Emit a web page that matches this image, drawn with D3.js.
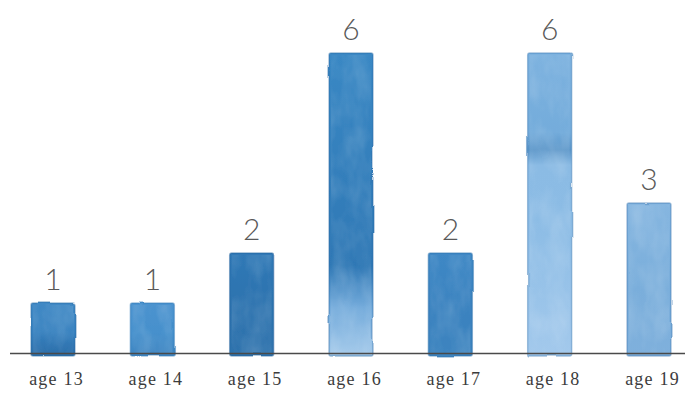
<!DOCTYPE html>
<html>
<head>
<meta charset="utf-8">
<script src="https://cdn.jsdelivr.net/npm/d3@7"></script>
<style>
  body { margin: 0; background: #fff; }
  svg { display: block; }
</style>
</head>
<body>
<svg id="chart"></svg>
<script>
// ---- data ----
const ages = ["age 13", "age 14", "age 15", "age 16", "age 17", "age 18", "age 19"];
const counts = [1, 1, 2, 6, 2, 6, 3];

// watercolor tints per bar (top, middle, bottom)
const tints = [
  ["#4089c5", "#3781bf", "#2c6ea9"],
  ["#4c93cf", "#4690cc", "#3f86c2"],
  ["#3079b6", "#2c72ae", "#2f73ad"],
  ["#3a88c4", "#2f78b5", "#a6cbeb"],
  ["#3f88c5", "#3a82bf", "#3d84bf"],
  ["#7db2df", "#8cbce5", "#a3c9ec"],
  ["#86b6e0", "#7aaedb", "#7fb0dc"]
];
const edgeTints = ["#2a6aa5", "#3479b5", "#245f98", "#2a6ba5", "#2e70aa", "#3d7db5", "#3f78b0"];

const width = 685, height = 393;
const baseline = 353;

const svg = d3.select("#chart")
  .attr("width", width)
  .attr("height", height);

const x = d3.scaleBand()
  .domain(ages)
  .range([0, 702])
  .paddingInner(0.557)
  .paddingOuter(0.312);

const y = d3.scaleLinear()
  .domain([0, 6])
  .range([baseline, 53]);

const defs = svg.append("defs");

// rough watercolor edge
const f = defs.append("filter").attr("id", "wc")
  .attr("x", "-20%").attr("y", "-10%").attr("width", "140%").attr("height", "120%");
f.append("feTurbulence").attr("type", "fractalNoise").attr("baseFrequency", "0.03 0.02")
  .attr("numOctaves", 2).attr("seed", 4).attr("result", "noise");
f.append("feDisplacementMap").attr("in", "SourceGraphic").attr("in2", "noise")
  .attr("scale", 3).attr("xChannelSelector", "R").attr("yChannelSelector", "G");

// pigment texture
const t = defs.append("filter").attr("id", "tex")
  .attr("x", "-20%").attr("y", "-10%").attr("width", "140%").attr("height", "120%");
t.append("feTurbulence").attr("type", "fractalNoise").attr("baseFrequency", "0.06 0.03")
  .attr("numOctaves", 3).attr("seed", 9).attr("result", "n");
t.append("feColorMatrix").attr("in", "n").attr("type", "matrix")
  .attr("values", "0 0 0 0 1  0 0 0 0 1  0 0 0 0 1  0 0 0 -1.4 0.95").attr("result", "light");
t.append("feComposite").attr("in", "light").attr("in2", "SourceGraphic").attr("operator", "in");

counts.forEach((v, i) => {
  const g = defs.append("linearGradient").attr("id", "grad" + i)
    .attr("x1", 0).attr("y1", 0).attr("x2", 0).attr("y2", 1);
  g.append("stop").attr("offset", "0%").attr("stop-color", tints[i][0]);
  if (i === 5) {
    g.append("stop").attr("offset", "26%").attr("stop-color", "#74acdb");
    g.append("stop").attr("offset", "32%").attr("stop-color", "#5b96c9");
    g.append("stop").attr("offset", "37%").attr("stop-color", "#8bbbe4");
  }
  if (i === 3) {
    g.append("stop").attr("offset", "70%").attr("stop-color", tints[i][1]);
    g.append("stop").attr("offset", "84%").attr("stop-color", "#74abdb");
  } else {
    g.append("stop").attr("offset", "55%").attr("stop-color", tints[i][1]);
  }
  g.append("stop").attr("offset", "100%").attr("stop-color", tints[i][2]);
});

const bars = svg.append("g").attr("filter", "url(#wc)");

bars.selectAll("rect.bar")
  .data(counts)
  .join("rect")
  .attr("class", "bar")
  .attr("x", (d, i) => x(ages[i]))
  .attr("y", d => y(d))
  .attr("width", x.bandwidth())
  .attr("height", d => baseline - y(d) + 3)
  .attr("rx", 2)
  .attr("fill", (d, i) => `url(#grad${i})`)
  .attr("stroke", (d, i) => edgeTints[i])
  .attr("stroke-opacity", 0.45)
  .attr("stroke-width", 1.4);

// lighter blotches in the pigment
bars.selectAll("rect.tex")
  .data(counts)
  .join("rect")
  .attr("class", "tex")
  .attr("x", (d, i) => x(ages[i]) + 2)
  .attr("y", d => y(d) + 2)
  .attr("width", x.bandwidth() - 4)
  .attr("height", d => baseline - y(d) - 2)
  .attr("fill", "#000")
  .attr("filter", "url(#tex)")
  .attr("opacity", 0.18);

// baseline
svg.append("line")
  .attr("x1", 10).attr("x2", width)
  .attr("y1", baseline + 0.5).attr("y2", baseline + 0.5)
  .attr("stroke", "#4a4a4a")
  .attr("stroke-width", 1.3);

// value labels
svg.append("g").selectAll("text")
  .data(counts)
  .join("text")
  .attr("x", (d, i) => x(ages[i]) + x.bandwidth() / 2)
  .attr("y", d => y(d) - 13)
  .attr("text-anchor", "middle")
  .style("font-family", "Lato, 'Open Sans', sans-serif")
  .style("font-weight", 300)
  .style("font-size", "30px")
  .attr("fill", "#595959")
  .text(d => d);

// category labels
const xAxis = svg.append("g")
  .attr("transform", `translate(0,${baseline})`)
  .call(d3.axisBottom(x).tickSize(0).tickPadding(19));
xAxis.select(".domain").remove();
xAxis.selectAll("text")
  .attr("dx", "3.5")
  .style("font-family", "'Liberation Serif', 'DejaVu Serif', serif")
  .style("font-size", "18px")
  .style("letter-spacing", "1.2px")
  .attr("fill", "#3c3c3c");
</script>
</body>
</html>
